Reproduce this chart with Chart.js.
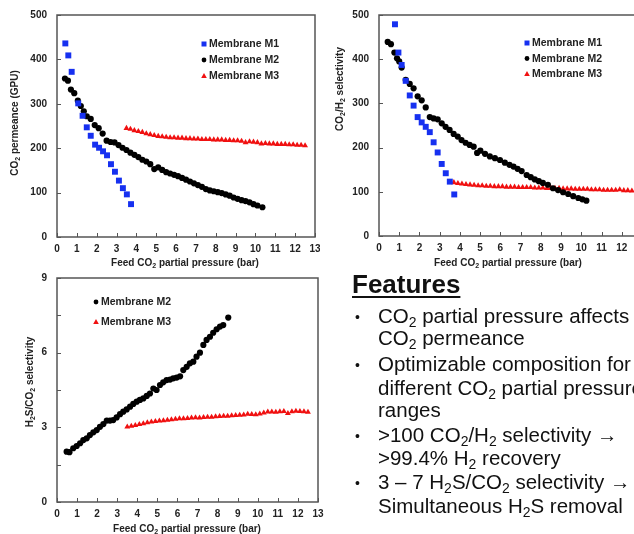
<!DOCTYPE html>
<html>
<head>
<meta charset="utf-8">
<script src="https://cdn.jsdelivr.net/npm/chart.js@4.4.1/dist/chart.umd.min.js"></script>
<style>
  html, body { margin: 0; padding: 0; background: #fff; }
  body { width: 634px; height: 534px; position: relative; overflow: hidden; font-family: Arial, "Liberation Sans", sans-serif; }
  .box { position: absolute; }
  #feat { position: absolute; left: 0; top: 0; width: 634px; height: 534px; color: #111; }
  #feat div { position: absolute; white-space: nowrap; font-size: 20.5px; line-height: 24px; }
  #feat .head { left: 352px; top: 269px; font-size: 26px; line-height: 30px; font-weight: bold; text-decoration: underline; text-decoration-thickness: 2px; text-underline-offset: 3px; }
  #feat .dot { left: 355px; font-size: 14px; }
  #feat .ln { left: 378px; }
  #feat sub { font-size: 0.68em; vertical-align: -0.3em; line-height: 0; }
</style>
</head>
<body>
<div class="box" style="left:0;top:0;width:320px;height:268px"><canvas id="permChart"></canvas></div>
<div class="box" style="left:320px;top:0;width:330px;height:268px"><canvas id="selChart"></canvas></div>
<div class="box" style="left:0;top:265px;width:325px;height:269px"><canvas id="h2sChart"></canvas></div>

<div id="feat">
  <div class="head">Features</div>
  <div class="dot" style="top:305px">•</div>
  <div class="ln" style="top:304px">CO<sub>2</sub> partial pressure affects</div>
  <div class="ln" style="top:326px">CO<sub>2</sub> permeance</div>
  <div class="dot" style="top:353px">•</div>
  <div class="ln" style="top:352px">Optimizable composition for</div>
  <div class="ln" style="top:376px">different CO<sub>2</sub> partial pressure</div>
  <div class="ln" style="top:398px">ranges</div>
  <div class="dot" style="top:424px">•</div>
  <div class="ln" style="top:423px">&gt;100 CO<sub>2</sub>/H<sub>2</sub> selectivity →</div>
  <div class="ln" style="top:446px">&gt;99.4% H<sub>2</sub> recovery</div>
  <div class="dot" style="top:471px">•</div>
  <div class="ln" style="top:470px">3 – 7 H<sub>2</sub>S/CO<sub>2</sub> selectivity →</div>
  <div class="ln" style="top:494px">Simultaneous H<sub>2</sub>S removal</div>
</div>

<script>
// --- data ---
const xTicks = [0, 1, 2, 3, 4, 5, 6, 7, 8, 9, 10, 11, 12, 13];

// CO2 permeance (GPU)
const permM1X = [0.42, 0.57, 0.74, 1.07, 1.29, 1.5, 1.7, 1.92, 2.12, 2.32, 2.52, 2.72, 2.92, 3.12, 3.32, 3.52, 3.73];
const permM1Y = [436, 409, 372, 301, 273, 247, 228, 208, 201, 193, 184, 164, 147, 127, 110, 96, 74];
const permM2X = [0.4, 0.55, 0.7, 0.87, 1.05, 1.2, 1.35, 1.5, 1.7, 1.9, 2.1, 2.3, 2.5, 2.7, 2.9, 3.1, 3.3, 3.5, 3.7, 3.9, 4.1, 4.3, 4.5, 4.7, 4.9, 5.1, 5.3, 5.5, 5.7, 5.9, 6.1, 6.3, 6.5, 6.7, 6.9, 7.1, 7.3, 7.5, 7.7, 7.9, 8.1, 8.3, 8.5, 8.7, 8.9, 9.1, 9.3, 9.5, 9.7, 9.9, 10.1, 10.35];
const permM2Y = [357, 352, 332, 324, 307, 295, 283, 272, 266, 252, 245, 233, 217, 214, 213, 207, 201, 196, 190, 185, 180, 174, 170, 164, 153, 157, 151, 146, 143, 140, 137, 133, 129, 125, 121, 117, 113, 108, 105, 103, 101, 99, 96, 93, 89, 86, 83, 81, 78, 74, 71, 67];
const permM3X = [3.5, 3.7, 3.9, 4.1, 4.3, 4.5, 4.7, 4.9, 5.1, 5.3, 5.5, 5.7, 5.9, 6.1, 6.3, 6.5, 6.7, 6.9, 7.1, 7.3, 7.5, 7.7, 7.9, 8.1, 8.3, 8.5, 8.7, 8.9, 9.1, 9.3, 9.5, 9.7, 9.9, 10.1, 10.3, 10.5, 10.7, 10.9, 11.1, 11.3, 11.5, 11.7, 11.9, 12.1, 12.3, 12.5];
const permM3Y = [245, 243, 240, 238, 236, 233, 231, 229, 227, 226, 225, 224, 224, 223, 223, 222, 222, 221, 221, 220, 220, 220, 219, 219, 219, 218, 218, 217, 217, 216, 213, 215, 214, 213, 210, 211, 210, 210, 209, 209, 209, 208, 208, 207, 207, 206];

// CO2/H2 selectivity
const selM1X = [0.79, 0.96, 1.12, 1.32, 1.52, 1.71, 1.91, 2.11, 2.31, 2.51, 2.7, 2.9, 3.1, 3.3, 3.5, 3.72];
const selM1Y = [479, 415, 387, 351, 318, 295, 269, 257, 247, 235, 212, 189, 163, 142, 123, 94];
const selM2X = [0.43, 0.59, 0.76, 0.89, 1.0, 1.12, 1.32, 1.52, 1.71, 1.91, 2.11, 2.31, 2.51, 2.7, 2.9, 3.1, 3.29, 3.49, 3.69, 3.89, 4.08, 4.28, 4.48, 4.68, 4.85, 5.01, 5.24, 5.48, 5.73, 5.98, 6.22, 6.45, 6.65, 6.85, 7.05, 7.3, 7.5, 7.7, 7.9, 8.1, 8.35, 8.6, 8.85, 9.1, 9.35, 9.6, 9.85, 10.05, 10.25];
const selM2Y = [439, 434, 415, 402, 395, 381, 353, 344, 334, 316, 307, 291, 269, 266, 264, 255, 247, 240, 231, 225, 217, 211, 206, 202, 188, 193, 186, 180, 176, 172, 166, 161, 157, 152, 147, 138, 133, 128, 124, 120, 116, 108, 104, 99, 95, 90, 86, 83, 80];
const selM3X = [3.5, 3.7, 3.9, 4.1, 4.3, 4.5, 4.7, 4.9, 5.1, 5.3, 5.5, 5.7, 5.9, 6.1, 6.3, 6.5, 6.7, 6.9, 7.1, 7.3, 7.5, 7.7, 7.9, 8.1, 8.3, 8.5, 8.7, 8.9, 9.1, 9.3, 9.5, 9.7, 9.9, 10.1, 10.3, 10.5, 10.7, 10.9, 11.1, 11.3, 11.5, 11.7, 11.9, 12.1, 12.3, 12.5];
const selM3Y = [122, 121, 119, 118, 117, 116, 115, 114, 114, 113, 113, 112, 112, 112, 111, 111, 111, 110, 110, 110, 110, 109, 109, 109, 108, 108, 108, 108, 107, 107, 107, 106, 106, 106, 106, 105, 105, 105, 104, 104, 104, 104, 105, 103, 103, 102];

// H2S/CO2 selectivity
const h2sM2X = [0.48, 0.62, 0.81, 0.98, 1.15, 1.31, 1.48, 1.64, 1.81, 1.98, 2.14, 2.31, 2.48, 2.64, 2.8, 2.97, 3.14, 3.3, 3.47, 3.64, 3.8, 3.97, 4.13, 4.3, 4.47, 4.63, 4.8, 4.96, 5.13, 5.29, 5.46, 5.63, 5.79, 5.96, 6.13, 6.29, 6.46, 6.62, 6.79, 6.95, 7.12, 7.29, 7.45, 7.62, 7.78, 7.95, 8.12, 8.28, 8.53];
const h2sM2Y = [2.02, 2.0, 2.16, 2.25, 2.36, 2.49, 2.56, 2.69, 2.8, 2.89, 3.02, 3.13, 3.27, 3.27, 3.29, 3.4, 3.53, 3.63, 3.72, 3.83, 3.94, 4.03, 4.1, 4.16, 4.26, 4.36, 4.56, 4.5, 4.7, 4.81, 4.9, 4.92, 4.97, 5.0, 5.05, 5.3, 5.43, 5.57, 5.64, 5.84, 6.0, 6.31, 6.51, 6.64, 6.8, 6.94, 7.05, 7.11, 7.41];
const h2sM3X = [3.5, 3.7, 3.9, 4.1, 4.3, 4.5, 4.7, 4.9, 5.1, 5.3, 5.5, 5.7, 5.9, 6.1, 6.3, 6.5, 6.7, 6.9, 7.1, 7.3, 7.5, 7.7, 7.9, 8.1, 8.3, 8.5, 8.7, 8.9, 9.1, 9.3, 9.5, 9.7, 9.9, 10.1, 10.3, 10.5, 10.7, 10.9, 11.1, 11.3, 11.5, 11.7, 11.9, 12.1, 12.3, 12.5];
const h2sM3Y = [3.02, 3.05, 3.08, 3.12, 3.15, 3.19, 3.22, 3.24, 3.26, 3.27, 3.29, 3.31, 3.33, 3.35, 3.35, 3.36, 3.38, 3.39, 3.38, 3.4, 3.41, 3.41, 3.43, 3.44, 3.45, 3.45, 3.47, 3.48, 3.49, 3.5, 3.53, 3.52, 3.51, 3.54, 3.58, 3.62, 3.62, 3.61, 3.63, 3.64, 3.56, 3.63, 3.65, 3.64, 3.63, 3.61];

const BLUE = '#1630f0', BLACK = '#000', RED = '#f01010';
const FONT = 'Arial, "Liberation Sans", sans-serif';

function pts(xs, ys) {
  return xs.map((x, i) => ({ x: x, y: ys[i] }));
}

function m1(xs, ys) {
  return { label: 'Membrane M1', data: pts(xs, ys), pointStyle: 'rect', pointRadius: 4.2, backgroundColor: BLUE, borderColor: BLUE, borderWidth: 0 };
}
function m2(xs, ys) {
  return { label: 'Membrane M2', data: pts(xs, ys), pointStyle: 'circle', pointRadius: 3.1, backgroundColor: BLACK, borderColor: BLACK, borderWidth: 0 };
}
function m3(xs, ys) {
  return { label: 'Membrane M3', data: pts(xs, ys), pointStyle: 'triangle', pointRadius: 3.4, backgroundColor: RED, borderColor: RED, borderWidth: 0 };
}

// text with '_' marking the next char as subscript
function drawRich(ctx, str, x, y, size, vertical) {
  const parts = [];
  for (let i = 0; i < str.length; i++) {
    if (str[i] === '_') { i++; parts.push([str[i], true]); }
    else parts.push([str[i], false]);
  }
  const fontFor = sub => 'bold ' + (sub ? size * 0.7 : size) + 'px ' + FONT;
  let total = 0;
  parts.forEach(p => { ctx.font = fontFor(p[1]); p.push(ctx.measureText(p[0]).width); total += p[2]; });
  ctx.save();
  ctx.translate(x, y);
  if (vertical) ctx.rotate(-Math.PI / 2);
  ctx.textBaseline = 'middle';
  ctx.textAlign = 'left';
  let cx = -total / 2;
  parts.forEach(p => {
    ctx.font = fontFor(p[1]);
    ctx.fillText(p[0], cx, p[1] ? size * 0.3 : 0);
    cx += p[2];
  });
  ctx.restore();
}

// frame, inside tick marks, titles and legend
const decor = {
  id: 'decor',
  beforeDatasetsDraw(chart, args, opts) {
    const { ctx, chartArea: a, scales: { x, y } } = chart;
    ctx.save();
    ctx.strokeStyle = '#555';
    ctx.lineWidth = 1.5;
    ctx.strokeRect(a.left, a.top, a.right - a.left, a.bottom - a.top);
    ctx.lineWidth = 1;
    ctx.beginPath();
    x.ticks.forEach(t => {
      const px = Math.round(x.getPixelForValue(t.value)) + 0.5;
      ctx.moveTo(px, a.bottom);
      ctx.lineTo(px, a.bottom - 4);
    });
    y.ticks.forEach(t => {
      const py = Math.round(y.getPixelForValue(t.value)) + 0.5;
      ctx.moveTo(a.left, py);
      ctx.lineTo(a.left + 4, py);
    });
    ctx.stroke();
    ctx.restore();
  },
  afterDraw(chart, args, opts) {
    const { ctx } = chart;
    ctx.save();
    ctx.fillStyle = '#222';
    drawRich(ctx, opts.xTitle, opts.xTitleX, opts.xTitleY, 10, false);
    drawRich(ctx, opts.yTitle, opts.yTitleX, opts.yTitleY, 10, true);

    chart.data.datasets.forEach((ds, i) => {
      const lx = opts.legX, ly = opts.legY + i * opts.legGap;
      ctx.fillStyle = ds.backgroundColor;
      ctx.beginPath();
      if (ds.pointStyle === 'rect') ctx.rect(lx - 2.5, ly - 2.5, 5, 5);
      else if (ds.pointStyle === 'circle') ctx.arc(lx, ly, 2.4, 0, Math.PI * 2);
      else { ctx.moveTo(lx, ly - 3); ctx.lineTo(lx + 2.8, ly + 2); ctx.lineTo(lx - 2.8, ly + 2); ctx.closePath(); }
      ctx.fill();
      ctx.fillStyle = '#222';
      ctx.font = 'bold 10.5px ' + FONT;
      ctx.textBaseline = 'middle';
      ctx.textAlign = 'left';
      ctx.fillText(ds.label, lx + 5, ly + 0.5);
    });
    ctx.restore();
  }
};

function makeChart(id, datasets, yMax, yStep, yLabelEvery, area, deco) {
  const fitX = s => { s.height = area.xh; s.paddingLeft = 0; s.paddingRight = 0; };
  const fitY = s => { s.width = area.yw; s.paddingTop = 0; s.paddingBottom = 0; };
  return new Chart(document.getElementById(id), {
    type: 'scatter',
    data: { datasets },
    options: {
      responsive: true,
      maintainAspectRatio: false,
      animation: false,
      layout: { padding: { top: area.top, right: area.right, left: 0, bottom: 0 } },
      plugins: { legend: { display: false }, tooltip: { enabled: false }, decor: deco },
      scales: {
        x: {
          type: 'linear', min: 0, max: 13,
          afterBuildTicks: s => { s.ticks = xTicks.map(v => ({ value: v })); },
          ticks: { padding: 6, color: '#222', font: { family: FONT, size: 10, weight: 'bold' }, maxRotation: 0, autoSkip: false },
          grid: { display: false, drawTicks: false },
          border: { display: false },
          afterFit: fitX
        },
        y: {
          min: 0, max: yMax,
          ticks: {
            stepSize: yStep, padding: 10, color: '#222',
            font: { family: FONT, size: 10, weight: 'bold' },
            callback: v => (Math.abs(v / yLabelEvery - Math.round(v / yLabelEvery)) < 1e-6 ? v : '')
          },
          grid: { display: false, drawTicks: false },
          border: { display: false },
          afterFit: fitY
        }
      }
    },
    plugins: [decor]
  });
}

makeChart('permChart',
  [m1(permM1X, permM1Y), m2(permM2X, permM2Y), m3(permM3X, permM3Y)],
  500, 100, 100,
  { top: 15, right: 5, xh: 31, yw: 57 },
  { xTitle: 'Feed CO_2 partial pressure (bar)', xTitleX: 185, xTitleY: 263,
    yTitle: 'CO_2 permeance (GPU)', yTitleX: 15, yTitleY: 123,
    legX: 204, legY: 44, legGap: 16 });

makeChart('selChart',
  [m1(selM1X, selM1Y), m2(selM2X, selM2Y), m3(selM3X, selM3Y)],
  500, 100, 100,
  { top: 15, right: 8, xh: 32, yw: 59 },
  { xTitle: 'Feed CO_2 partial pressure (bar)', xTitleX: 188, xTitleY: 263,
    yTitle: 'CO_2/H_2 selectivity', yTitleX: 20, yTitleY: 89,
    legX: 207, legY: 43, legGap: 15.5 });

makeChart('h2sChart',
  [m2(h2sM2X, h2sM2Y), m3(h2sM3X, h2sM3Y)],
  9, 1.5, 3,
  { top: 13, right: 7, xh: 32, yw: 57 },
  { xTitle: 'Feed CO_2 partial pressure (bar)', xTitleX: 187, xTitleY: 264,
    yTitle: 'H_2S/CO_2 selectivity', yTitleX: 30, yTitleY: 117,
    legX: 96, legY: 37, legGap: 20 });
</script>
</body>
</html>
